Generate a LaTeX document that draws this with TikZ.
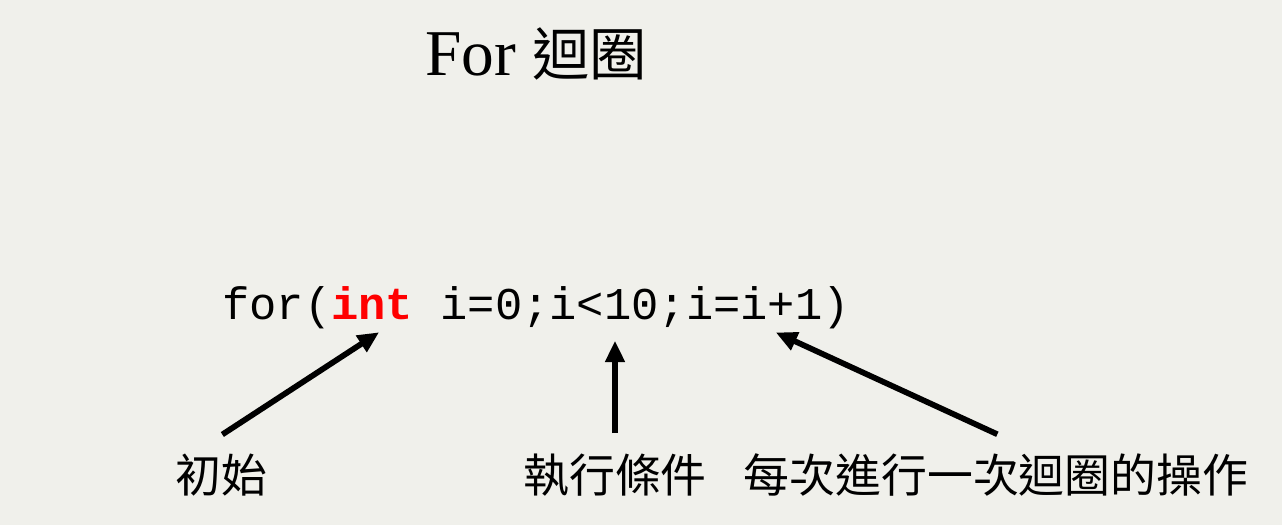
\documentclass[tikz,border=0pt]{standalone}
\usepackage{fontspec}
\setmainfont{Liberation Serif}
\setmonofont{Liberation Mono}
\newfontfamily\cjk{Noto Sans CJK TC}
\usetikzlibrary{arrows.meta}
\definecolor{bgc}{RGB}{240,240,235}
\definecolor{kw}{RGB}{255,0,0}
\tikzset{
  lbl/.style={font=\cjk\fontsize{34.4pt}{40pt}\selectfont, inner sep=0pt, anchor=base},
  arr/.style={line width=4.3pt, -{Triangle[length=16pt,width=14pt]}, shorten >=-1pt},
}
\begin{document}
\begin{tikzpicture}[x=0.75pt,y=-0.75pt]
\fill[bgc] (0,0) rectangle (1282,525);
\useasboundingbox (0,0) rectangle (1282,525);
\node[inner sep=0pt, anchor=base west] (title) at (425,75)
  {\fontsize{49pt}{58pt}\selectfont For {\cjk\fontsize{43pt}{50pt}\selectfont 迴圈}};
\node[inner sep=0pt, anchor=base west] (code) at (222,319)
  {\ttfamily\fontsize{34.1pt}{40pt}\selectfont for({\color{kw}\bfseries int} i=0;i<10;i=i+1)};
\node[lbl] (l1) at (221,492) {初始};
\node[lbl] (l2) at (615,492) {執行條件};
\node[lbl] (l3) at (996,492) {每次進行一次迴圈的操作};
\coordinate (c1) at (378,333);
\coordinate (c2) at (615,342);
\coordinate (c3) at (777,333);
\draw[arr] ([xshift=1pt,yshift=14pt]l1.north) -- (c1);
\draw[arr] ([yshift=15pt]l2.north) -- (c2);
\draw[arr] ([xshift=1pt,yshift=14pt]l3.north) -- (c3);
\end{tikzpicture}
\end{document}
